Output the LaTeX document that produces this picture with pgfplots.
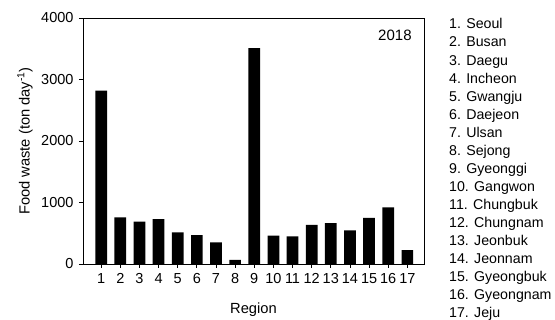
\documentclass[border=0pt]{standalone}
\usepackage{fontspec}
\setmainfont{Liberation Sans}
\usepackage{pgfplots}
\pgfplotsset{compat=1.18}
\begin{document}
\begin{tikzpicture}
\useasboundingbox (-83pt,-56pt) rectangle (472pt,264pt);
\begin{axis}[
  at={(0pt,0pt)}, anchor=south west,
  scale only axis, width=341pt, height=246pt,
  xmin=0.05, xmax=17.87, ymin=0, ymax=4000,
  xtick={1,...,17}, ytick={0,1000,2000,3000,4000},
  tick align=outside, tick pos=left,
  major tick length=4pt,
  axis line style={line width=0.8pt},
  every tick/.style={black, line width=0.8pt},
  tick label style={font=\fontsize{14.5}{16}\selectfont},
  /pgf/number format/assume math mode=true,
  scaled y ticks=false,
  yticklabel style={/pgf/number format/1000 sep={}, xshift=-2pt},
  xticklabel style={yshift=-2pt},
  xlabel={Region},
  ylabel={Food waste (ton day\textsuperscript{-1})},
  label style={font=\fontsize{14.7}{16}\selectfont},
  xlabel style={at={(axis description cs:0.5,-0.187)}, anchor=center},
  ylabel style={at={(axis description cs:-0.170,0.5)}, anchor=center, rotate=0},
]
\addplot[ybar, bar width=11.7pt, fill=black, draw=none] coordinates {
 (1,2820) (2,760) (3,690) (4,730) (5,515) (6,470) (7,350) (8,65) (9,3510)
 (10,460) (11,450) (12,635) (13,665) (14,545) (15,750) (16,920) (17,225)
};
\node[anchor=east, font=\fontsize{15}{16}\selectfont] at (axis description cs:0.974,0.931) {2018};
\end{axis}
\foreach \i/\name in {1/Seoul,2/Busan,3/Daegu,4/Incheon,5/Gwangju,6/Daejeon,7/Ulsan,8/Sejong,9/Gyeonggi,10/Gangwon,11/Chungbuk,12/Chungnam,13/Jeonbuk,14/Jeonnam,15/Gyeongbuk,16/Gyeongnam,17/Jeju}
  \node[anchor=base west, inner sep=0pt, font=\fontsize{14.2}{16}\selectfont] at (366pt, {235.1pt-(\i-1)*18.06pt}) {\i. \name};
\end{tikzpicture}
\end{document}
